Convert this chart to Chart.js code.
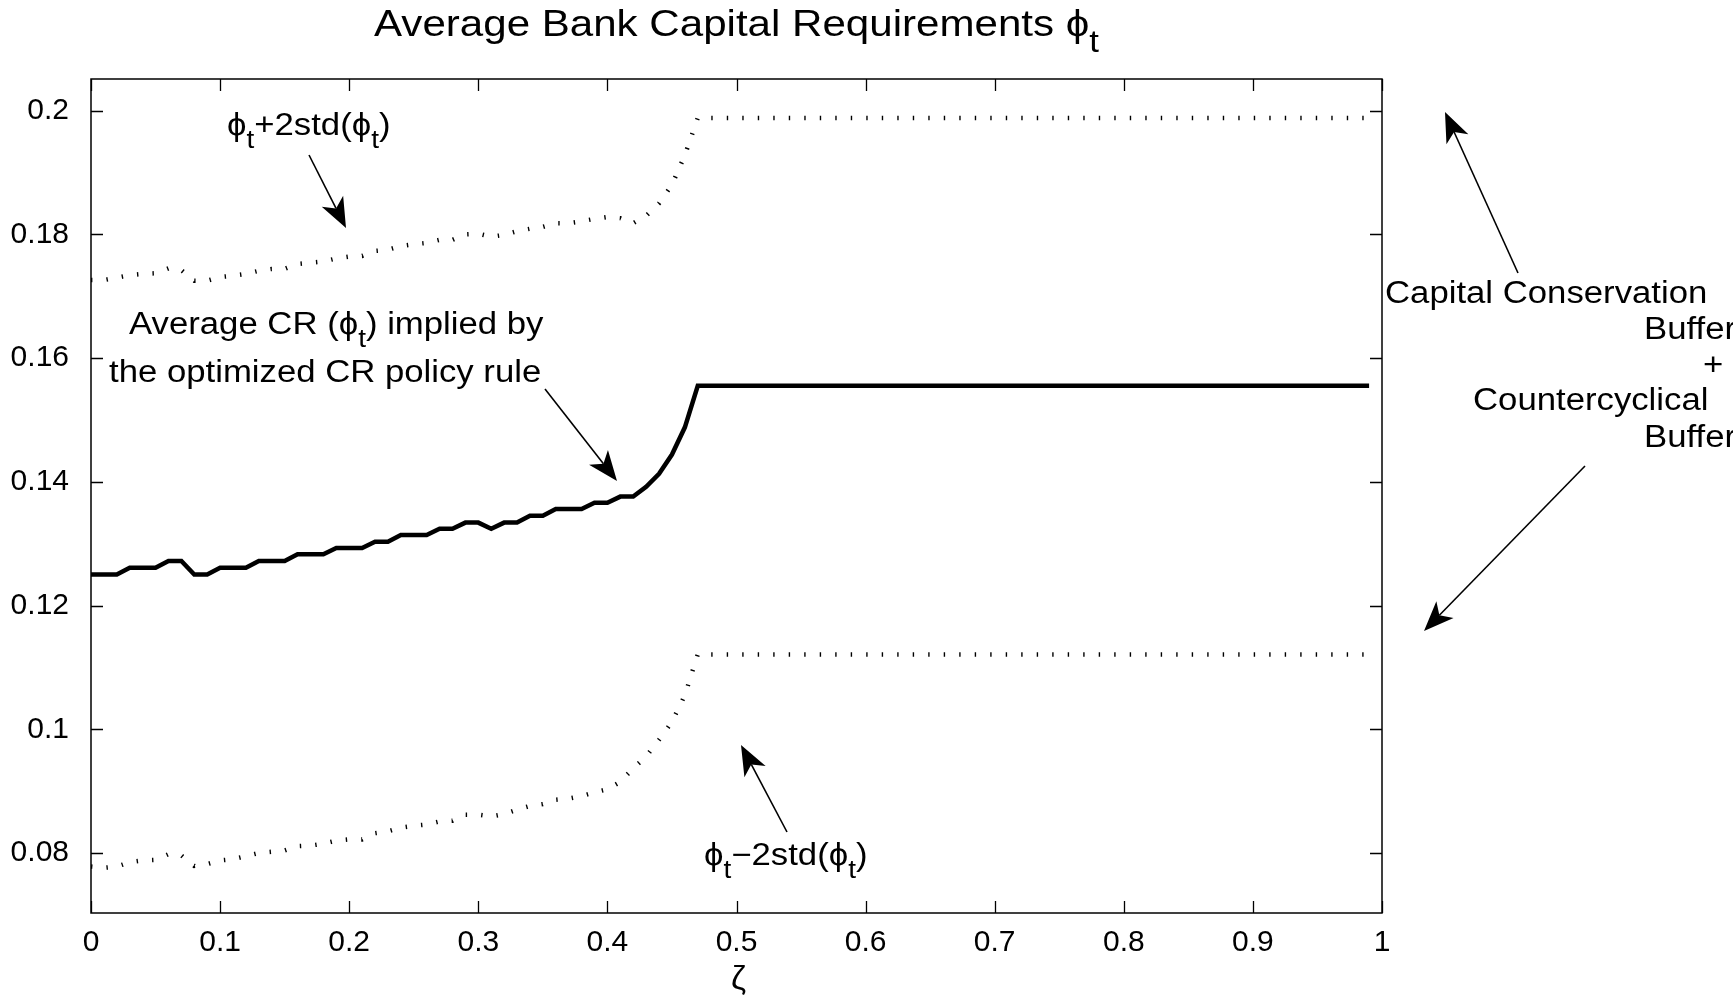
<!DOCTYPE html>
<html>
<head>
<meta charset="utf-8">
<script src="https://cdn.jsdelivr.net/npm/chart.js@4.4.1/dist/chart.umd.min.js"></script>
<style>
  html, body { margin: 0; padding: 0; background: #ffffff; }
  #wrap { width: 1733px; height: 1002px; position: relative; }
</style>
</head>
<body>
<div id="wrap"><canvas id="cv"></canvas></div>
<script>
// zeta grid
const zeta = [
  0.00,0.01,0.02,0.03,0.04,0.05,0.06,0.07,0.08,0.09,
  0.10,0.11,0.12,0.13,0.14,0.15,0.16,0.17,0.18,0.19,
  0.20,0.21,0.22,0.23,0.24,0.25,0.26,0.27,0.28,0.29,
  0.30,0.31,0.32,0.33,0.34,0.35,0.36,0.37,0.38,0.39,
  0.40,0.41,0.42,0.43,0.44,0.45,0.46,0.47,0.48,0.49,
  0.50,0.51,0.52,0.53,0.54,0.55,0.56,0.57,0.58,0.59,
  0.60,0.61,0.62,0.63,0.64,0.65,0.66,0.67,0.68,0.69,
  0.70,0.71,0.72,0.73,0.74,0.75,0.76,0.77,0.78,0.79,
  0.80,0.81,0.82,0.83,0.84,0.85,0.86,0.87,0.88,0.89,
  0.90,0.91,0.92,0.93,0.94,0.95,0.96,0.97,0.98,0.99
];

// average capital requirement phi_t
const phiMean = [
  0.1250,0.1250,0.1250,0.1261,0.1261,0.1261,0.1272,0.1272,0.1250,0.1250,
  0.1261,0.1261,0.1261,0.1272,0.1272,0.1272,0.1283,0.1283,0.1283,0.1293,
  0.1293,0.1293,0.1303,0.1303,0.1314,0.1314,0.1314,0.1324,0.1324,0.1334,
  0.1334,0.1324,0.1334,0.1334,0.1345,0.1345,0.1356,0.1356,0.1356,0.1366,
  0.1366,0.1376,0.1376,0.1392,0.1413,0.1444,0.1488,0.1555,0.1555,0.1555,
  0.1555,0.1555,0.1555,0.1555,0.1555,0.1555,0.1555,0.1555,0.1555,0.1555,
  0.1555,0.1555,0.1555,0.1555,0.1555,0.1555,0.1555,0.1555,0.1555,0.1555,
  0.1555,0.1555,0.1555,0.1555,0.1555,0.1555,0.1555,0.1555,0.1555,0.1555,
  0.1555,0.1555,0.1555,0.1555,0.1555,0.1555,0.1555,0.1555,0.1555,0.1555,
  0.1555,0.1555,0.1555,0.1555,0.1555,0.1555,0.1555,0.1555,0.1555,0.1555
];

// phi_t + 2 std(phi_t)
const phiUpper = [
  0.1726,0.1726,0.1730,0.1734,0.1736,0.1737,0.1745,0.1742,0.1725,0.1725,
  0.1731,0.1733,0.1736,0.1741,0.1744,0.1744,0.1752,0.1754,0.1756,0.1761,
  0.1764,0.1765,0.1773,0.1775,0.1781,0.1784,0.1786,0.1791,0.1791,0.1800,
  0.1801,0.1796,0.1799,0.1805,0.1809,0.1812,0.1818,0.1818,0.1821,0.1825,
  0.1828,0.1826,0.1818,0.1830,0.1850,0.1880,0.1928,0.1988,0.1988,0.1988,
  0.1988,0.1988,0.1988,0.1988,0.1988,0.1988,0.1988,0.1988,0.1988,0.1988,
  0.1988,0.1988,0.1988,0.1988,0.1988,0.1988,0.1988,0.1988,0.1988,0.1988,
  0.1988,0.1988,0.1988,0.1988,0.1988,0.1988,0.1988,0.1988,0.1988,0.1988,
  0.1988,0.1988,0.1988,0.1988,0.1988,0.1988,0.1988,0.1988,0.1988,0.1988,
  0.1988,0.1988,0.1988,0.1988,0.1988,0.1988,0.1988,0.1988,0.1988,0.1988
];

// phi_t - 2 std(phi_t)
const phiLower = [
  0.0778,0.0776,0.0778,0.0785,0.0788,0.0789,0.0798,0.0796,0.0779,0.0782,
  0.0788,0.0790,0.0795,0.0800,0.0802,0.0804,0.0811,0.0812,0.0815,0.0820,
  0.0822,0.0822,0.0832,0.0835,0.0841,0.0844,0.0846,0.0851,0.0852,0.0862,
  0.0862,0.0859,0.0863,0.0870,0.0876,0.0879,0.0886,0.0888,0.0892,0.0898,
  0.0903,0.0915,0.0937,0.0956,0.0983,0.1012,0.1055,0.1121,0.1121,0.1121,
  0.1121,0.1121,0.1121,0.1121,0.1121,0.1121,0.1121,0.1121,0.1121,0.1121,
  0.1121,0.1121,0.1121,0.1121,0.1121,0.1121,0.1121,0.1121,0.1121,0.1121,
  0.1121,0.1121,0.1121,0.1121,0.1121,0.1121,0.1121,0.1121,0.1121,0.1121,
  0.1121,0.1121,0.1121,0.1121,0.1121,0.1121,0.1121,0.1121,0.1121,0.1121,
  0.1121,0.1121,0.1121,0.1121,0.1121,0.1121,0.1121,0.1121,0.1121,0.1121
];

const xTicks = [0, 0.1, 0.2, 0.3, 0.4, 0.5, 0.6, 0.7, 0.8, 0.9, 1];
const yTicks = [0.08, 0.1, 0.12, 0.14, 0.16, 0.18, 0.2];
const xRange = [0, 1];
const yRange = [0.0703, 0.2051];

const FONT = '"Liberation Sans", Arial, Helvetica, "DejaVu Sans", sans-serif';
const SX = 1.12; // horizontal stretch of annotation lettering

const pts = ys => zeta.map((z, i) => ({ x: z, y: ys[i] }));

function segFont(seg, size) {
  return (seg.sub ? Math.round(size * 0.82) : size) + 'px ' + FONT;
}
function richWidth(ctx, segs, size) {
  let w = 0;
  for (const s of segs) { ctx.font = segFont(s, size); w += ctx.measureText(s.t).width * SX; }
  return w;
}
function drawRich(ctx, segs, x, y, size, align) {
  const w = richWidth(ctx, segs, size);
  let cx = align === 'center' ? x - w / 2 : (align === 'right' ? x - w : x);
  ctx.save();
  ctx.fillStyle = '#000';
  ctx.textBaseline = 'alphabetic';
  ctx.textAlign = 'left';
  for (const s of segs) {
    ctx.font = segFont(s, size);
    const sw = ctx.measureText(s.t).width * SX;
    ctx.save();
    ctx.translate(cx, y + (s.sub ? size * 0.42 : 0));
    ctx.scale(SX, 1);
    ctx.fillText(s.t, 0, 0);
    ctx.restore();
    cx += sw;
  }
  ctx.restore();
}
function arrow(ctx, x0, y0, x1, y1) {
  const ang = Math.atan2(y1 - y0, x1 - x0);
  const L = 30, W = 12, N = 22;
  const ux = Math.cos(ang), uy = Math.sin(ang);
  const px = -uy, py = ux;
  ctx.save();
  ctx.strokeStyle = '#000';
  ctx.fillStyle = '#000';
  ctx.lineWidth = 1.6;
  ctx.beginPath();
  ctx.moveTo(x0, y0);
  ctx.lineTo(x1 - ux * N, y1 - uy * N);
  ctx.stroke();
  ctx.beginPath();
  ctx.moveTo(x1, y1);
  ctx.lineTo(x1 - ux * L + px * W, y1 - uy * L + py * W);
  ctx.lineTo(x1 - ux * N, y1 - uy * N);
  ctx.lineTo(x1 - ux * L - px * W, y1 - uy * L - py * W);
  ctx.closePath();
  ctx.fill();
  ctx.restore();
}

const phi = 'ϕ';
const decor = {
  id: 'decor',
  afterDatasetsDraw(chart) {
    const { ctx, chartArea: a, scales } = chart;
    const xs = scales.x, ys = scales.y;
    ctx.save();
    // axes box
    ctx.strokeStyle = '#000';
    ctx.lineWidth = 1.5;
    ctx.strokeRect(a.left, a.top, a.right - a.left, a.bottom - a.top);
    // inward tick marks on all four sides
    const TL = 12;
    ctx.beginPath();
    for (const v of xTicks) {
      const px = Math.round(xs.getPixelForValue(v)) + 0.5;
      ctx.moveTo(px, a.bottom); ctx.lineTo(px, a.bottom - TL);
      ctx.moveTo(px, a.top); ctx.lineTo(px, a.top + TL);
    }
    for (const v of yTicks) {
      const py = Math.round(ys.getPixelForValue(v)) + 0.5;
      ctx.moveTo(a.left, py); ctx.lineTo(a.left + TL, py);
      ctx.moveTo(a.right, py); ctx.lineTo(a.right - TL, py);
    }
    ctx.lineWidth = 1.3;
    ctx.stroke();
    ctx.restore();

    // title
    drawRich(ctx, [{ t: 'Average Bank Capital Requirements ' }, { t: phi }, { t: 't', sub: 1 }],
      (a.left + a.right) / 2, 36, 37.6, 'center');
    // x axis label
    ctx.save();
    ctx.fillStyle = '#000';
    ctx.font = '34px ' + FONT;
    ctx.textAlign = 'center';
    ctx.textBaseline = 'alphabetic';
    ctx.fillText('ζ', (a.left + a.right) / 2 + 2, 989);
    ctx.restore();

    // annotations
    drawRich(ctx, [{ t: phi }, { t: 't', sub: 1 }, { t: '+2std(' }, { t: phi }, { t: 't', sub: 1 }, { t: ')' }],
      227, 135, 31, 'left');
    drawRich(ctx, [{ t: 'Average CR (' }, { t: phi }, { t: 't', sub: 1 }, { t: ') implied by' }],
      129, 334, 31, 'left');
    drawRich(ctx, [{ t: 'the optimized CR policy rule' }], 109, 382, 31, 'left');
    drawRich(ctx, [{ t: phi }, { t: 't', sub: 1 }, { t: '\u22122std(' }, { t: phi }, { t: 't', sub: 1 }, { t: ')' }],
      704, 865, 31, 'left');

    drawRich(ctx, [{ t: 'Capital Conservation' }], 1385, 303, 31, 'left');
    drawRich(ctx, [{ t: 'Buffer' }], 1644, 339, 31, 'left');
    drawRich(ctx, [{ t: '+' }], 1703, 375, 31, 'left');
    drawRich(ctx, [{ t: 'Countercyclical' }], 1473, 410, 31, 'left');
    drawRich(ctx, [{ t: 'Buffer' }], 1644, 447, 31, 'left');

    // arrows
    arrow(ctx, 309, 155, 346, 228);
    arrow(ctx, 545, 389, 617, 481);
    arrow(ctx, 787, 832, 741, 745);
    arrow(ctx, 1518, 273, 1445, 112);
    arrow(ctx, 1585, 466, 1424, 631);
  }
};

const dotted = { borderColor: '#000', borderWidth: 4.5, borderDash: [1.4, 14.1], borderCapStyle: 'butt' };

new Chart(document.getElementById('cv'), {
  type: 'line',
  data: {
    datasets: [
      Object.assign({ label: 'phi + 2std', data: pts(phiUpper) }, dotted),
      { label: 'phi', data: pts(phiMean), borderColor: '#000', borderWidth: 4.5, borderJoinStyle: 'miter' },
      Object.assign({ label: 'phi - 2std', data: pts(phiLower) }, dotted)
    ]
  },
  options: {
    responsive: true,
    maintainAspectRatio: false,
    devicePixelRatio: 1,
    animation: false,
    events: [],
    elements: { point: { radius: 0 }, line: { tension: 0, fill: false } },
    layout: { padding: { top: 79, right: 351, left: 0, bottom: 0 } },
    plugins: { legend: { display: false }, title: { display: false }, tooltip: { enabled: false } },
    scales: {
      x: {
        type: 'linear', min: xRange[0], max: xRange[1],
        grid: { display: false, drawTicks: false },
        border: { display: false },
        afterFit: s => { s.height = 89; },
        afterBuildTicks: s => { s.ticks = xTicks.map(v => ({ value: v })); },
        ticks: {
          padding: 12, color: '#000', font: { size: 30, family: FONT },
          maxRotation: 0, autoSkip: false,
          callback: v => String(+v.toFixed(2))
        }
      },
      y: {
        type: 'linear', min: yRange[0], max: yRange[1],
        grid: { display: false, drawTicks: false },
        border: { display: false },
        afterFit: s => { s.width = 91; },
        afterBuildTicks: s => { s.ticks = yTicks.map(v => ({ value: v })); },
        ticks: {
          padding: 22, color: '#000', font: { size: 30, family: FONT },
          autoSkip: false,
          callback: v => String(+v.toFixed(2))
        }
      }
    }
  },
  plugins: [decor]
});
</script>
</body>
</html>
